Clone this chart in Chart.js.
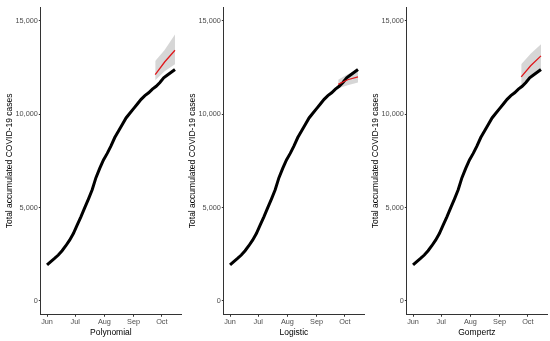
<!DOCTYPE html>
<html>
<head>
<meta charset="utf-8">
<script src="https://cdn.jsdelivr.net/npm/chart.js@4.4.1/dist/chart.umd.min.js"></script>
<style>
  body { margin: 0; background: #fff; }
  #wrap { position: relative; width: 550px; height: 341px; }
  .panel { position: absolute; top: 0; width: 183px; height: 341px; }
</style>
</head>
<body>
<div id="wrap">
  <div class="panel" style="left:0"><canvas id="c1"></canvas></div>
  <div class="panel" style="left:183px"><canvas id="c2"></canvas></div>
  <div class="panel" style="left:366px"><canvas id="c3"></canvas></div>
</div>
<script>
// days since 1 June
const days  = [0, 4, 8, 12, 16, 20, 24, 28, 32, 36, 40, 44, 48, 52, 56, 60, 64, 68, 72, 76, 80, 84, 88, 92, 96, 100, 104, 108, 112, 116, 120, 124, 128, 132, 136];
const cases = [1920, 2100, 2270, 2450, 2680, 2950, 3250, 3600, 4050, 4500, 4980, 5450, 5950, 6600, 7100, 7550, 7900, 8300, 8750, 9100, 9450, 9800, 10050, 10300, 10550, 10800, 11000, 11150, 11350, 11500, 11700, 11950, 12100, 12250, 12400];

const monthTicks  = [0, 30, 61, 92, 122];
const monthLabels = ['Jun', 'Jul', 'Aug', 'Sep', 'Oct'];
const caseTicks   = [0, 5000, 10000, 15000];

const fcDays = [115, 125, 136];
const models = ['Polynomial', 'Logistic', 'Gompertz'];
const fitPoly  = [12130, 12800, 13430];
const lowPoly  = [11820, 12300, 12680];
const upPoly   = [12860, 13450, 14280];
const fitLogis = [11600, 11850, 12000];
const lowLogis = [11400, 11550, 11700];
const upLogis  = [11850, 12150, 12350];
const fitGomp  = [12000, 12600, 13130];
const lowGomp  = [11520, 11950, 12420];
const upGomp   = [12680, 13250, 13750];

const fits = [fitPoly, fitLogis, fitGomp];
const lows = [lowPoly, lowLogis, lowGomp];
const ups  = [upPoly, upLogis, upGomp];

function pts(xs, ys) {
    return xs.map((x, i) => ({ x: x, y: ys[i] }));
}

const axisColor = '#333333';
const tickFont = { family: 'Liberation Sans', size: 7.3 };
const titleFont = { family: 'Liberation Sans', size: 8.5, lineHeight: 1 };

models.forEach(function (name, k) {
    new Chart(document.getElementById('c' + (k + 1)), {
        type: 'line',
        data: {
            datasets: [
                {
                    label: 'fit',
                    data: pts(fcDays, fits[k]),
                    borderColor: '#e0181c',
                    borderWidth: 1.3,
                    pointRadius: 0,
                    order: 0
                },
                {
                    label: 'observed',
                    data: pts(days, cases),
                    borderColor: '#000000',
                    borderWidth: 3,
                    pointRadius: 0,
                    tension: 0,
                    order: 1
                },
                {
                    label: 'upper',
                    data: pts(fcDays, ups[k]),
                    borderWidth: 0,
                    pointRadius: 0,
                    backgroundColor: 'rgba(200,200,200,0.75)',
                    fill: '+1',
                    order: 2
                },
                {
                    label: 'lower',
                    data: pts(fcDays, lows[k]),
                    borderWidth: 0,
                    pointRadius: 0,
                    fill: false,
                    order: 2
                }
            ]
        },
        options: {
            responsive: true,
            maintainAspectRatio: false,
            animation: false,
            layout: { padding: { top: 7, right: 2, left: 5, bottom: 4 } },
            plugins: { legend: { display: false }, tooltip: { enabled: false } },
            scales: {
                x: {
                    type: 'linear',
                    min: -6.6,
                    max: 142.4,
                    afterBuildTicks: function (scale) {
                        scale.ticks = monthTicks.map(v => ({ value: v }));
                    },
                    ticks: {
                        color: '#4d4d4d',
                        font: tickFont,
                        padding: 1,
                        maxRotation: 0,
                        callback: function (v) {
                            return monthLabels[monthTicks.indexOf(v)];
                        }
                    },
                    grid: { drawOnChartArea: false, tickLength: 2, color: axisColor },
                    border: { color: axisColor, width: 1 },
                    title: { display: true, text: name, color: '#000', font: titleFont, padding: { top: 1, bottom: 0 } }
                },
                y: {
                    min: -750,
                    max: 15750,
                    afterBuildTicks: function (scale) {
                        scale.ticks = caseTicks.map(v => ({ value: v }));
                    },
                    ticks: {
                        color: '#4d4d4d',
                        font: tickFont,
                        padding: 1,
                        callback: function (v) { return v.toLocaleString('en-US'); }
                    },
                    grid: { drawOnChartArea: false, tickLength: 2, color: axisColor },
                    border: { color: axisColor, width: 1 },
                    title: { display: true, text: 'Total accumulated COVID-19 cases', color: '#000', font: titleFont, padding: { top: 0, bottom: 1 } }
                }
            }
        }
    });
});
</script>
</body>
</html>
